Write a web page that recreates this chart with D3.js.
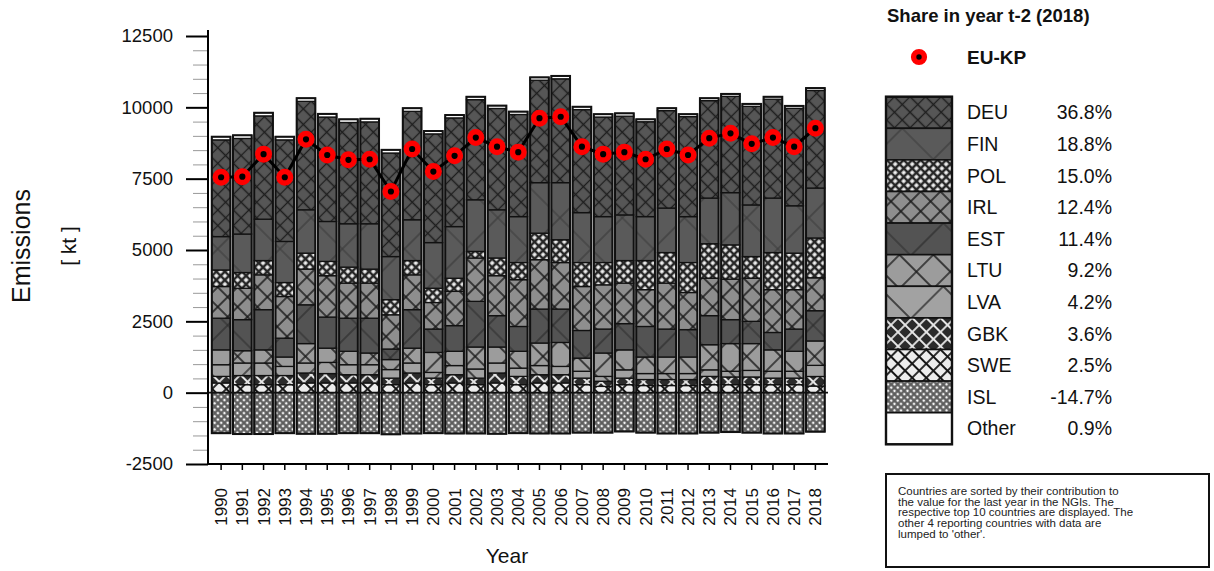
<!DOCTYPE html>
<html lang="en">
<head>
<meta charset="UTF-8">
<title>Emissions by country</title>
<style>
  body { margin: 0; background: #fff; }
  svg { font-family: "Liberation Sans", Arial, sans-serif; }
</style>
</head>
<body>
<script src="https://cdn.jsdelivr.net/npm/d3@7"></script>
<script>
// values in kt
const years = ['1990','1991','1992','1993','1994','1995','1996','1997','1998','1999',
  '2000','2001','2002','2003','2004','2005','2006','2007','2008','2009',
  '2010','2011','2012','2013','2014','2015','2016','2017','2018'];

const DEU = [3390,3350,3620,3560,3800,3660,3550,3570,3630,3800, 3810,3810,3510,3550,3580,3590,3640,3610,3490,3460, 3325,3415,3505,3415,3375,3455,3465,3415,3420];
const FIN = [1170,1350,1450,1440,1520,1400,1520,1590,1510,1430, 1600,1810,1810,1690,1610,1770,2000,1750,1610,1600, 1540,1560,1610,1600,1830,1810,1910,1660,1750];
const POL = [580,550,500,490,560,500,560,490,530,500, 500,460,230,620,600,930,800,840,780,790, 1020,1070,1050,1210,1200,760,1300,1280,1395];
const IRL = [1110,1100,1220,1460,1250,1450,1230,1230,1200,1220, 930,1200,1520,1400,1640,1730,1630,1540,1550,1420, 1290,1610,1300,1310,1420,1510,1500,1380,1153];
const EST = [1110,1090,1410,660,1360,1090,1160,1220,370,1350, 820,900,1600,1100,870,1190,1170,970,840,920, 1070,980,960,1020,840,780,610,780,1060];
const LTU = [520,430,460,330,680,500,470,410,350,520, 700,500,770,560,590,790,840,460,820,700, 580,580,580,880,970,940,750,700,856];
const LVA = [410,440,440,320,350,390,350,350,300,350, 200,320,320,350,290,320,290,240,170,290, 210,210,210,230,200,230,240,240,390];
const GBK = [230,320,320,320,350,330,290,290,230,350, 230,290,230,350,290,290,290,230,180,230, 210,210,210,290,270,270,230,230,335];
const SWE = [340,280,280,280,340,340,340,340,280,340, 280,340,280,340,280,340,340,280,220,280, 250,250,250,280,280,280,280,280,232];
const ISL = [-1420,-1450,-1450,-1420,-1440,-1440,-1420,-1420,-1460,-1430, -1420,-1430,-1430,-1440,-1420,-1430,-1430,-1400,-1400,-1360, -1400,-1430,-1430,-1400,-1380,-1400,-1430,-1430,-1367];
const Other = [110,110,110,110,110,110,110,110,110,110, 100,100,100,100,100,100,100,100,100,100, 85,85,85,85,85,85,85,85,84];
const EUKP = [7550,7570,8360,7550,8880,8330,8160,8180,7050,8540, 7750,8300,8940,8620,8430,9620,9670,8620,8360,8430, 8180,8540,8330,8920,9090,8720,8940,8620,9270];

const legendKeys = ['DEU','FIN','POL','IRL','EST','LTU','LVA','GBK','SWE','ISL','Other'];
const legendShares = ['36.8%','18.8%','15.0%','12.4%','11.4%','9.2%','4.2%','3.6%','2.5%','-14.7%','0.9%'];
const yTicks = [-2500, 0, 2500, 5000, 7500, 10000, 12500];
const noteLines = [
  'Countries are sorted by their contribution to',
  'the value for the last year in the NGIs. The',
  'respective top 10 countries are displayed. The',
  'other 4 reporting countries with data are',
  "lumped to 'other'."
];

const series = {DEU, FIN, POL, IRL, EST, LTU, LVA, GBK, SWE, ISL, Other};
const stackKeys = ['SWE','GBK','LVA','LTU','EST','IRL','POL','FIN','DEU','Other','ISL'];

const rows = years.map((yr, i) => {
  const r = {year: yr};
  stackKeys.forEach(k => r[k] = series[k][i]);
  return r;
});

const W = 1214, H = 571;
const svg = d3.select('body').append('svg')
  .attr('width', W).attr('height', H);

// hatch patterns: [background, line colour, line width, spacing]
const hatch = {
  DEU:   ['#565656', '#1e1e1e', 1.3, 11],
  FIN:   ['#5a5a5a', '#3a3a3a', 1.2, 44],
  POL:   ['#f2f2f2', '#262626', 2.6, 6],
  IRL:   ['#8e8e8e', '#1a1a1a', 1.5, 14],
  EST:   ['#535353', '#2a2a2a', 1.2, 46],
  LTU:   ['#9c9c9c', '#1a1a1a', 1.4, 24],
  LVA:   ['#a2a2a2', '#222', 1.3, 46],
  GBK:   ['#2b2b2b', '#e6e6e6', 1.8, 10],
  SWE:   ['#ececec', '#151515', 1.8, 10],
  ISL:   ['#f4f4f4', '#5c5c5c', 2.2, 4.6],
  Other: ['#ffffff', '#ffffff', 0, 10]
};

const defs = svg.append('defs');
Object.entries(hatch).forEach(([k, [bg, col, lw, s]]) => {
  const p = defs.append('pattern')
    .attr('id', 'pat-' + k)
    .attr('patternUnits', 'userSpaceOnUse')
    .attr('width', s).attr('height', s)
    .attr('patternTransform', 'rotate(45)');
  p.append('rect').attr('width', s).attr('height', s).attr('fill', bg);
  if (lw > 0) {
    p.append('path')
      .attr('d', `M0,${s/2}H${s}M${s/2},0V${s}`)
      .attr('stroke', col).attr('stroke-width', lw).attr('fill', 'none');
  }
});

const x = d3.scaleBand().domain(years).range([210.5, 826])
  .paddingInner(0.12).paddingOuter(0.06);
const y = d3.scaleLinear().domain([-2500, 12500]).range([464, 36]);

const stacked = d3.stack().keys(stackKeys).offset(d3.stackOffsetDiverging)(rows);

// bar segments
const layers = svg.append('g').selectAll('g')
  .data(stacked).join('g')
  .attr('fill', d => `url(#pat-${d.key})`);

layers.selectAll('rect')
  .data(d => d)
  .join('rect')
  .attr('x', d => x(d.data.year))
  .attr('width', x.bandwidth())
  .attr('y', d => y(Math.max(d[0], d[1])))
  .attr('height', d => Math.abs(y(d[0]) - y(d[1])))
  .attr('stroke', '#111')
  .attr('stroke-width', 1.3);

// heavy outline round each bar
const posTop = stacked[stackKeys.indexOf('Other')];
const negBot = stacked[stackKeys.indexOf('ISL')];
svg.append('g').selectAll('rect')
  .data(years)
  .join('rect')
  .attr('x', d => x(d))
  .attr('width', x.bandwidth())
  .attr('y', (d, i) => y(posTop[i][1]))
  .attr('height', (d, i) => y(negBot[i][0]) - y(posTop[i][1]))
  .attr('fill', 'none')
  .attr('stroke', '#111')
  .attr('stroke-width', 2);

// zero line
svg.append('line')
  .attr('x1', 208).attr('x2', 828)
  .attr('y1', y(0)).attr('y2', y(0))
  .attr('stroke', '#111').attr('stroke-width', 1.8);

// EU-KP line and markers
const cx = d => x(d) + x.bandwidth() / 2;
svg.append('path')
  .datum(years)
  .attr('fill', 'none')
  .attr('stroke', '#000')
  .attr('stroke-width', 3)
  .attr('d', d3.line().x(d => cx(d)).y((d, i) => y(EUKP[i])));

svg.append('g').selectAll('circle')
  .data(years)
  .join('circle')
  .attr('cx', d => cx(d))
  .attr('cy', (d, i) => y(EUKP[i]))
  .attr('r', 5.8)
  .attr('fill', '#000')
  .attr('stroke', '#f00')
  .attr('stroke-width', 5.4);

// y axis
const minor = d3.range(-2500, 12501, 500).filter(v => v % 2500 !== 0);
const yMinor = svg.append('g').attr('transform', 'translate(208,0)')
  .call(d3.axisLeft(y).tickValues(minor).tickSize(15).tickFormat(''));
yMinor.select('.domain').remove();
yMinor.selectAll('line').attr('stroke', '#999').attr('stroke-width', 1);

const yAxis = svg.append('g').attr('transform', 'translate(208,0)')
  .call(d3.axisLeft(y).tickValues(yTicks).tickSize(22).tickPadding(13).tickFormat(d => String(d)));
yAxis.select('.domain').remove();
yAxis.selectAll('line').attr('stroke', '#000').attr('stroke-width', 2);
yAxis.selectAll('text').attr('font-size', 18.5).attr('fill', '#111')
  .attr('font-family', '"Liberation Sans", Arial, sans-serif');

svg.append('line')
  .attr('x1', 208).attr('x2', 208).attr('y1', 30).attr('y2', 465)
  .attr('stroke', '#000').attr('stroke-width', 2);

// x axis
const xAxis = svg.append('g').attr('transform', 'translate(0,464)')
  .call(d3.axisBottom(x).tickSize(6).tickSizeOuter(0));
xAxis.select('.domain').remove();
xAxis.selectAll('line').attr('stroke', '#000').attr('stroke-width', 1.5);
xAxis.selectAll('text')
  .attr('font-size', 17).attr('fill', '#111')
  .attr('font-family', '"Liberation Sans", Arial, sans-serif')
  .attr('transform', 'rotate(-90)')
  .attr('text-anchor', 'end')
  .attr('x', -24).attr('y', 0).attr('dy', '0.35em');

svg.append('line')
  .attr('x1', 207).attr('x2', 828).attr('y1', 464).attr('y2', 464)
  .attr('stroke', '#000').attr('stroke-width', 2);

// axis titles
svg.append('text')
  .attr('x', 507).attr('y', 563)
  .attr('text-anchor', 'middle')
  .attr('font-size', 21).attr('fill', '#111')
  .text('Year');

svg.append('text')
  .attr('transform', 'translate(30,246) rotate(-90)')
  .attr('text-anchor', 'middle')
  .attr('font-size', 25).attr('fill', '#111')
  .text('Emissions');

svg.append('text')
  .attr('transform', 'translate(76,246) rotate(-90)')
  .attr('text-anchor', 'middle')
  .attr('font-size', 21).attr('fill', '#111')
  .text('[ kt ]');

// legend
const lg = svg.append('g');
lg.append('text')
  .attr('x', 887).attr('y', 22)
  .attr('font-size', 18.5).attr('font-weight', 'bold').attr('fill', '#111')
  .text('Share in year t-2 (2018)');

lg.append('circle')
  .attr('cx', 919).attr('cy', 57)
  .attr('r', 5.4).attr('fill', '#000')
  .attr('stroke', '#f00').attr('stroke-width', 5.4);
lg.append('text')
  .attr('x', 967).attr('y', 64)
  .attr('font-size', 19).attr('font-weight', 'bold').attr('fill', '#111')
  .text('EU-KP');

const rowH = 31.6, boxTop = 96.7;
const item = lg.selectAll('g.item')
  .data(legendKeys)
  .join('g')
  .attr('class', 'item')
  .attr('transform', (d, i) => `translate(0,${boxTop + i * rowH})`);

item.append('rect')
  .attr('x', 886).attr('width', 66).attr('height', rowH)
  .attr('fill', d => `url(#pat-${d})`)
  .attr('stroke', '#111').attr('stroke-width', 1.6);

item.append('text')
  .attr('x', 967).attr('y', rowH / 2 + 7)
  .attr('font-size', 19.5).attr('fill', '#111')
  .text(d => d);

item.append('text')
  .attr('x', 1112).attr('y', rowH / 2 + 7)
  .attr('text-anchor', 'end')
  .attr('font-size', 19.5).attr('fill', '#111')
  .text((d, i) => legendShares[i]);

lg.append('rect')
  .attr('x', 886).attr('y', boxTop)
  .attr('width', 66).attr('height', rowH * legendKeys.length)
  .attr('fill', 'none').attr('stroke', '#111').attr('stroke-width', 2.4);

// note box
svg.append('rect')
  .attr('x', 886).attr('y', 474).attr('width', 323).attr('height', 93)
  .attr('fill', '#fff').attr('stroke', '#111').attr('stroke-width', 2);

svg.append('g').selectAll('text')
  .data(noteLines)
  .join('text')
  .attr('x', 898)
  .attr('y', (d, i) => 495 + i * 10.7)
  .attr('font-size', 11.5).attr('fill', '#222')
  .text(d => d);
</script>
</body>
</html>
